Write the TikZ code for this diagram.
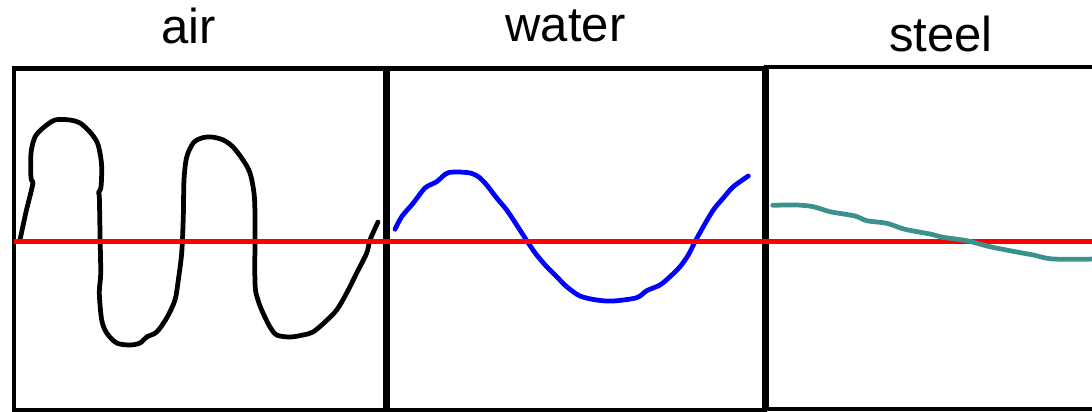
\documentclass[tikz,border=0pt]{standalone}
\usepackage{fontspec}
\setmainfont{Liberation Sans}
\definecolor{rojolinea}{RGB}{255,0,0}
\definecolor{azulonda}{RGB}{0,0,255}
\definecolor{verdeacero}{RGB}{60,145,140}
\usetikzlibrary{positioning}
\begin{document}
\begin{tikzpicture}[x=0.02cm,y=-0.02cm,
    caja/.style={draw=black,line width=0.088cm},
    onda/.style={line width=0.095cm,line cap=round,line join=round},
    titulo/.style={anchor=base,inner sep=0pt,
      font=\fontsize{27.9}{32}\selectfont}]
    \useasboundingbox (0,0) rectangle (1092,412);
    \clip (0,0) rectangle (1092,412);
    % cajas
    \draw[caja] (14,68.5) rectangle (385,410);
    \draw[caja] (388,68.5) rectangle (764.5,410.5);
    \draw[caja] (766.5,67) rectangle (1100,408.7);
    % titulos
    \node[titulo] (aire) at (188.5,44) {air};
    \node[titulo] (agua) at (565.5,42) {water};
    \node[titulo] (acero) at (941,52) {steel};
    % onda en el aire
    \draw[onda,black] plot[smooth,tension=0.5] coordinates {
      (20,240) (26,212) (31,192) (33,182) (31,178) (31,153) (35,137)
      (43,128) (55,120) (70,120) (80,123) (90,132) (97,142) (100,153)
      (101.7,167) (101,187) (98.3,193) (99.3,196) (100,233) (100.7,273)
      (99.3,293) (101.7,320) (106.7,333) (116.7,343) (130,345) (140,343)
      (146.7,337) (156.7,332) (166.7,318) (175,300) (178.3,280)
      (181.7,253) (183.3,217) (184,180) (186.7,157) (193.3,143)
      (201.7,138) (211.7,137) (223.3,140) (233,147) (243,160) (250,173)
      (254,193) (255,217) (255,283) (258,300) (263,313) (270,327)
      (276.7,335) (290,337) (303,335) (313,332) (325,322) (336.7,310)
      (346.7,293) (356.7,273) (366.7,253) (370,240) (378,222)};
    % onda en el agua
    \draw[onda,azulonda] plot[smooth,tension=0.5] coordinates {
      (395,229.3) (401.7,216.7) (413.3,203) (425,188) (436.7,181.7)
      (448.3,172.7) (468.3,172.7) (478.3,176.7) (486.7,185) (496.7,198)
      (506.7,210) (516.7,225) (528.3,243) (536.7,255) (546.7,266.7)
      (556.7,276.7) (566.7,286.7) (580,296) (596.7,300) (613.3,301)
      (636.7,297.7) (646.7,290.7) (660,285) (670,276.7) (680,266.7)
      (688.3,255) (695,241.7) (703.3,226.7) (713.3,210) (723.3,198)
      (733.3,186.7) (748.3,176)};
    % linea de equilibrio
    \draw[rojolinea,line width=0.095cm] (14,241.5) -- (1100,241.5);
    % onda en el acero
    \draw[onda,verdeacero] plot[smooth,tension=0.5] coordinates {
      (772.7,205.3) (796.7,205) (813.3,206.7) (830,211.7) (855,216)
      (866.7,220.7) (886.7,223.3) (905,229.3) (930,234) (943.3,237.3)
      (966.7,240.7) (990,246.7) (1016.7,252) (1033.3,255) (1053.3,259)
      (1100,259)};
\end{tikzpicture}
\end{document}
